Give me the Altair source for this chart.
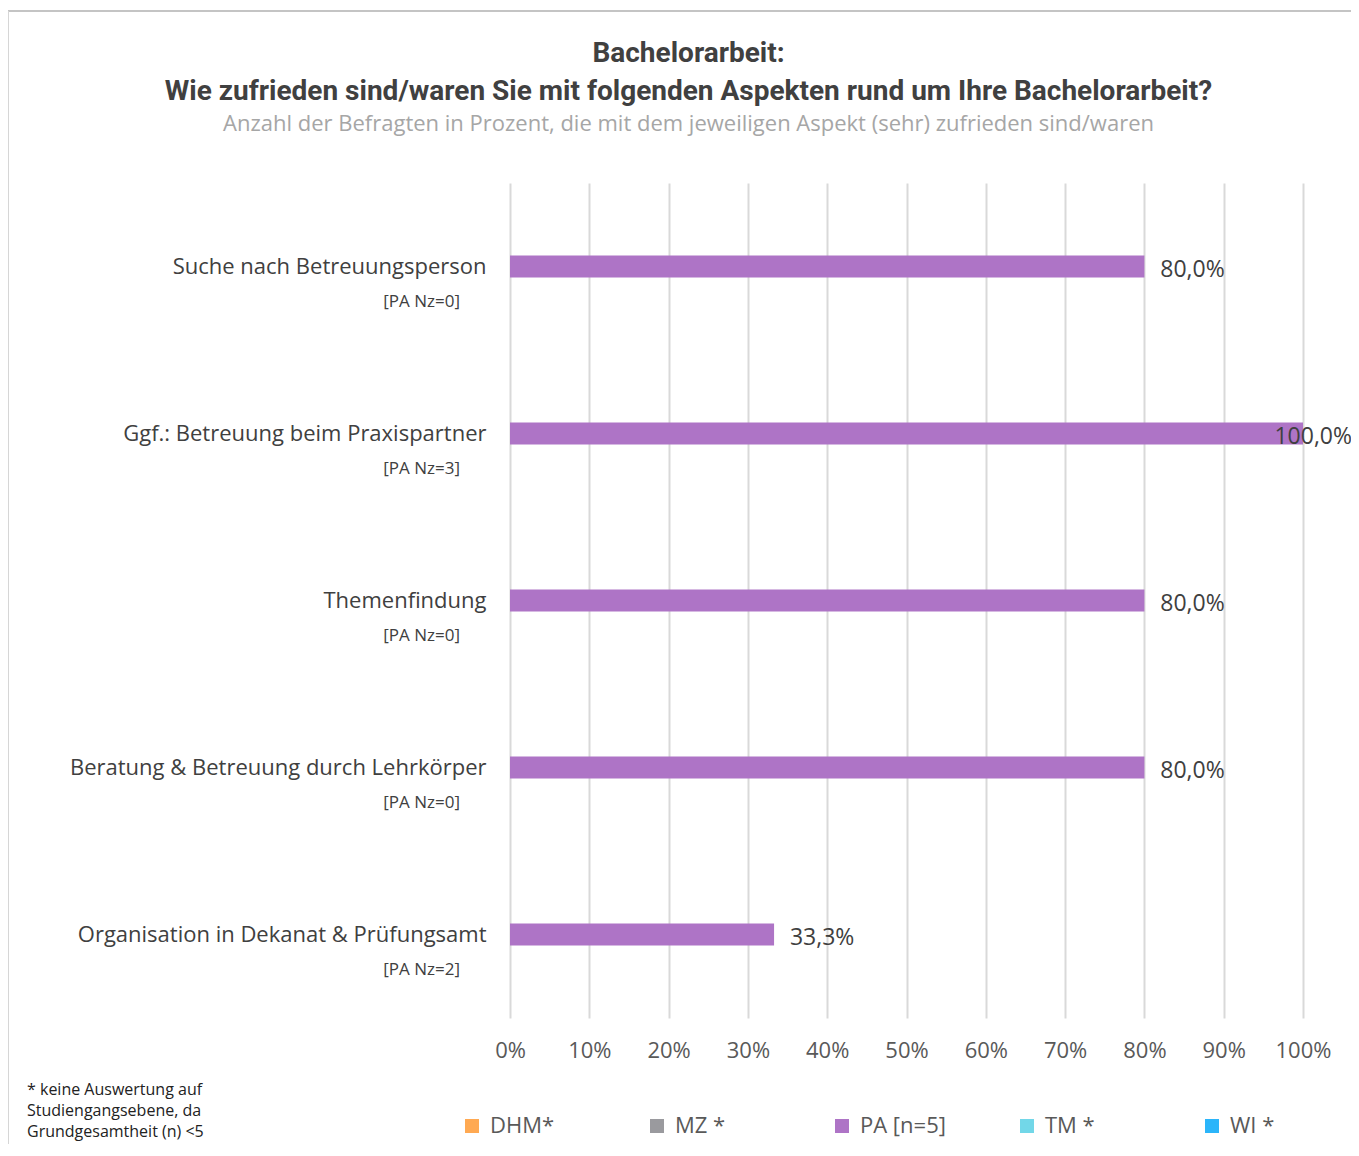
import altair as alt
import pandas as pd

categories = [
    "Suche nach Betreuungsperson",
    "Ggf.: Betreuung beim Praxispartner",
    "Themenfindung",
    "Beratung & Betreuung durch Lehrkörper",
    "Organisation in Dekanat & Prüfungsamt",
]
sub_labels = ["[PA Nz=0]", "[PA Nz=3]", "[PA Nz=0]", "[PA Nz=0]", "[PA Nz=2]"]
values = [80.0, 100.0, 80.0, 80.0, 33.3]
series_name = "PA [n=5]"
groups = ["DHM*", "MZ *", "PA [n=5]", "TM *", "WI *"]
group_colors = ["#ffa952", "#9a9a9e", "#ae74c6", "#72d7e8", "#2bb5fa"]
x_ticks = [0, 10, 20, 30, 40, 50, 60, 70, 80, 90, 100]
footnote = ["* keine Auswertung auf", "Studiengangsebene, da", "Grundgesamtheit (n) <5"]
title_lines = [
    "Bachelorarbeit:",
    "Wie zufrieden sind/waren Sie mit folgenden Aspekten rund um Ihre Bachelorarbeit?",
]
subtitle = "Anzahl der Befragten in Prozent, die mit dem jeweiligen Aspekt (sehr) zufrieden sind/waren"

df = pd.DataFrame({"cat": categories, "sub": sub_labels, "value": values, "group": series_name})
one = pd.DataFrame({"k": [0]})

BODY = "Open Sans"

y_enc = alt.Y(
    "cat:N",
    sort=categories,
    scale=alt.Scale(paddingInner=0, paddingOuter=0),
    axis=alt.Axis(
        title=None, ticks=False, domain=False, grid=False,
        labelFontSize=22, labelColor="#404040", labelFont=BODY,
        labelPadding=24, labelLimit=700,
    ),
)
x_enc = alt.X(
    "value:Q",
    scale=alt.Scale(domain=[0, 100], nice=False),
    axis=alt.Axis(
        title=None, values=x_ticks, ticks=False, domain=False,
        grid=True, gridColor="#d9d9d9", gridWidth=2,
        labelExpr="datum.value + '%'", labelFontSize=22, labelColor="#595959",
        labelFont=BODY, labelPadding=22, labelFlush=False,
    ),
)

base = alt.Chart(df)

bars = base.mark_bar(size=22).encode(
    x=x_enc,
    y=y_enc,
    color=alt.Color(
        "group:N",
        scale=alt.Scale(domain=groups, range=group_colors),
        legend=alt.Legend(
            title=None, orient="none", legendX=-49, legendY=932,
            direction="horizontal", columns=5, gridAlign="all",
            columnPadding=70, symbolType="square", symbolSize=196,
            symbolStrokeWidth=0, labelFontSize=22, labelColor="#595959",
            labelFont=BODY, labelOffset=7,
        ),
    ),
)

value_text = base.transform_calculate(
    lx="min(datum.value + 2, 96.4)",
    lab="replace(format(datum.value, '.1f'), '.', ',') + '%'",
).mark_text(
    align="left", baseline="middle", dy=3, fontSize=23, color="#404040", font=BODY
).encode(
    x=alt.X("lx:Q"),
    y=alt.Y("cat:N", sort=categories),
    text="lab:N",
)

sub_text = base.mark_text(
    align="right", baseline="middle", dy=35, fontSize=17, color="#404040", font=BODY
).encode(
    x=alt.value(-50),
    y=alt.Y("cat:N", sort=categories),
    text="sub:N",
)

foot = alt.Chart(one).mark_text(
    text=footnote, align="left", baseline="top", fontSize=16, lineHeight=21,
    color="#222222", font=BODY,
).encode(x=alt.value(-483), y=alt.value(899))

frame_top = alt.Chart(one).mark_rule(color="#c4c4c4", strokeWidth=2).encode(
    x=alt.value(-503), x2=alt.value(849), y=alt.value(-172)
)
frame_left = alt.Chart(one).mark_rule(color="#d6d6d6", strokeWidth=2).encode(
    x=alt.value(-502), y=alt.value(-172), y2=alt.value(970)
)

chart = alt.layer(frame_top, frame_left, bars, value_text, sub_text, foot).properties(
    width=793,
    height=835,
    autosize=alt.AutoSizeParams(type="none"),
    padding={"left": 502, "top": 175, "right": 48, "bottom": 126},
    title=alt.TitleParams(
        text=title_lines,
        subtitle=subtitle,
        anchor="middle",
        dx=-218,
        offset=-125,
        font="Roboto",
        fontSize=28,
        fontWeight="bold",
        color="#404040",
        lineHeight=38,
        subtitleFont=BODY,
        subtitleFontSize=22,
        subtitleColor="#a6a6a6",
        subtitlePadding=8,
    ),
).configure_view(stroke=None)

chart.save("out.html", embed_options={"renderer": "svg", "actions": False})
